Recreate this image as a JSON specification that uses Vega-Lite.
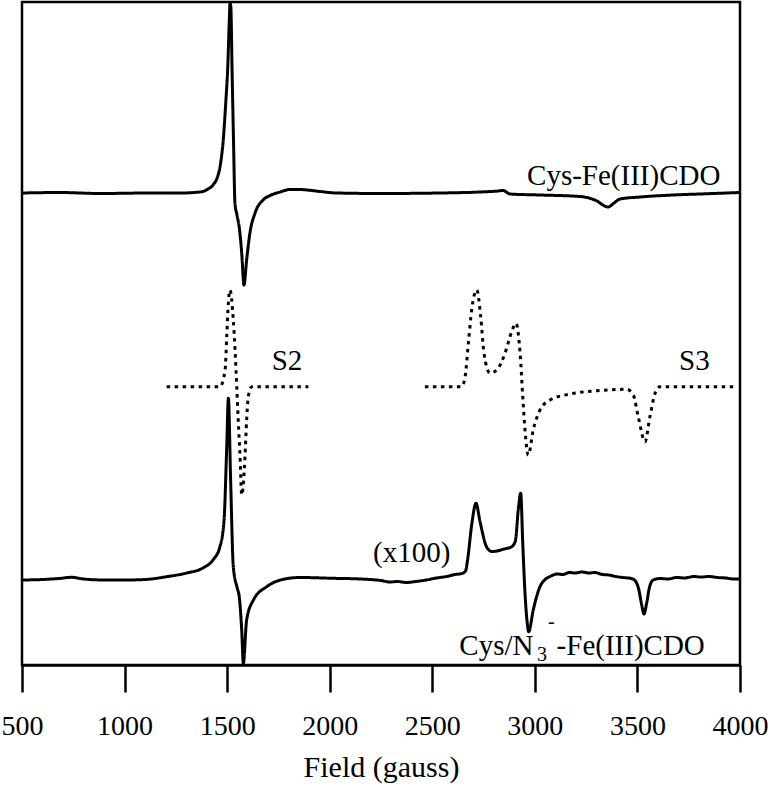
{
  "$schema": "https://vega.github.io/schema/vega-lite/v6.json",
  "width": 718,
  "height": 663,
  "autosize": {"type": "none"},
  "padding": {"left": 22, "top": 2, "right": 31, "bottom": 122},
  "background": "white",
  "config": {
    "font": "Liberation Serif",
    "view": {"stroke": "black", "strokeWidth": 2.5}
  },
  "datasets": {
    "curves": [
      {"series": "Cys-Fe(III)CDO", "style": "solid", "field": 500, "signal": 472},
      {"series": "Cys-Fe(III)CDO", "style": "solid", "field": 685, "signal": 472.5},
      {"series": "Cys-Fe(III)CDO", "style": "solid", "field": 880, "signal": 471.5},
      {"series": "Cys-Fe(III)CDO", "style": "solid", "field": 1124, "signal": 472},
      {"series": "Cys-Fe(III)CDO", "style": "solid", "field": 1270, "signal": 472},
      {"series": "Cys-Fe(III)CDO", "style": "solid", "field": 1368, "signal": 473},
      {"series": "Cys-Fe(III)CDO", "style": "solid", "field": 1407, "signal": 476},
      {"series": "Cys-Fe(III)CDO", "style": "solid", "field": 1431, "signal": 480},
      {"series": "Cys-Fe(III)CDO", "style": "solid", "field": 1451, "signal": 487},
      {"series": "Cys-Fe(III)CDO", "style": "solid", "field": 1465, "signal": 498},
      {"series": "Cys-Fe(III)CDO", "style": "solid", "field": 1481, "signal": 525},
      {"series": "Cys-Fe(III)CDO", "style": "solid", "field": 1494, "signal": 565},
      {"series": "Cys-Fe(III)CDO", "style": "solid", "field": 1503, "signal": 598},
      {"series": "Cys-Fe(III)CDO", "style": "solid", "field": 1511, "signal": 648},
      {"series": "Cys-Fe(III)CDO", "style": "solid", "field": 1514, "signal": 662},
      {"series": "Cys-Fe(III)CDO", "style": "solid", "field": 1518, "signal": 658},
      {"series": "Cys-Fe(III)CDO", "style": "solid", "field": 1524, "signal": 595},
      {"series": "Cys-Fe(III)CDO", "style": "solid", "field": 1531, "signal": 525},
      {"series": "Cys-Fe(III)CDO", "style": "solid", "field": 1538, "signal": 462},
      {"series": "Cys-Fe(III)CDO", "style": "solid", "field": 1548, "signal": 450},
      {"series": "Cys-Fe(III)CDO", "style": "solid", "field": 1560, "signal": 436},
      {"series": "Cys-Fe(III)CDO", "style": "solid", "field": 1571, "signal": 412},
      {"series": "Cys-Fe(III)CDO", "style": "solid", "field": 1582, "signal": 380},
      {"series": "Cys-Fe(III)CDO", "style": "solid", "field": 1595, "signal": 405},
      {"series": "Cys-Fe(III)CDO", "style": "solid", "field": 1611, "signal": 432},
      {"series": "Cys-Fe(III)CDO", "style": "solid", "field": 1636, "signal": 452},
      {"series": "Cys-Fe(III)CDO", "style": "solid", "field": 1675, "signal": 465},
      {"series": "Cys-Fe(III)CDO", "style": "solid", "field": 1709, "signal": 469.5},
      {"series": "Cys-Fe(III)CDO", "style": "solid", "field": 1758, "signal": 473},
      {"series": "Cys-Fe(III)CDO", "style": "solid", "field": 1806, "signal": 475.5},
      {"series": "Cys-Fe(III)CDO", "style": "solid", "field": 1855, "signal": 475.5},
      {"series": "Cys-Fe(III)CDO", "style": "solid", "field": 1889, "signal": 475},
      {"series": "Cys-Fe(III)CDO", "style": "solid", "field": 1953, "signal": 473.5},
      {"series": "Cys-Fe(III)CDO", "style": "solid", "field": 2036, "signal": 472},
      {"series": "Cys-Fe(III)CDO", "style": "solid", "field": 2245, "signal": 471.5},
      {"series": "Cys-Fe(III)CDO", "style": "solid", "field": 2538, "signal": 472},
      {"series": "Cys-Fe(III)CDO", "style": "solid", "field": 2733, "signal": 473},
      {"series": "Cys-Fe(III)CDO", "style": "solid", "field": 2820, "signal": 474},
      {"series": "Cys-Fe(III)CDO", "style": "solid", "field": 2845, "signal": 474.5},
      {"series": "Cys-Fe(III)CDO", "style": "solid", "field": 2879, "signal": 471},
      {"series": "Cys-Fe(III)CDO", "style": "solid", "field": 3025, "signal": 470},
      {"series": "Cys-Fe(III)CDO", "style": "solid", "field": 3220, "signal": 468.5},
      {"series": "Cys-Fe(III)CDO", "style": "solid", "field": 3293, "signal": 465},
      {"series": "Cys-Fe(III)CDO", "style": "solid", "field": 3357, "signal": 458},
      {"series": "Cys-Fe(III)CDO", "style": "solid", "field": 3386, "signal": 462},
      {"series": "Cys-Fe(III)CDO", "style": "solid", "field": 3415, "signal": 466},
      {"series": "Cys-Fe(III)CDO", "style": "solid", "field": 3513, "signal": 468},
      {"series": "Cys-Fe(III)CDO", "style": "solid", "field": 3673, "signal": 470},
      {"series": "Cys-Fe(III)CDO", "style": "solid", "field": 3805, "signal": 471},
      {"series": "Cys-Fe(III)CDO", "style": "solid", "field": 4000, "signal": 472.5},

      {"series": "S2", "style": "dotted", "field": 1205, "signal": 278.3},
      {"series": "S2", "style": "dotted", "field": 1465, "signal": 278.3},
      {"series": "S2", "style": "dotted", "field": 1490, "signal": 295},
      {"series": "S2", "style": "dotted", "field": 1498, "signal": 328.3},
      {"series": "S2", "style": "dotted", "field": 1506, "signal": 362},
      {"series": "S2", "style": "dotted", "field": 1514, "signal": 375},
      {"series": "S2", "style": "dotted", "field": 1530, "signal": 345},
      {"series": "S2", "style": "dotted", "field": 1547, "signal": 278.3},
      {"series": "S2", "style": "dotted", "field": 1554, "signal": 245},
      {"series": "S2", "style": "dotted", "field": 1563, "signal": 208.3},
      {"series": "S2", "style": "dotted", "field": 1571, "signal": 170},
      {"series": "S2", "style": "dotted", "field": 1587, "signal": 208.3},
      {"series": "S2", "style": "dotted", "field": 1595, "signal": 245},
      {"series": "S2", "style": "dotted", "field": 1603, "signal": 268.3},
      {"series": "S2", "style": "dotted", "field": 1620, "signal": 278.3},
      {"series": "S2", "style": "dotted", "field": 1896, "signal": 278.3},

      {"series": "S3", "style": "dotted", "field": 2464, "signal": 278.3},
      {"series": "S3", "style": "dotted", "field": 2643, "signal": 278.3},
      {"series": "S3", "style": "dotted", "field": 2660, "signal": 288.3},
      {"series": "S3", "style": "dotted", "field": 2676, "signal": 322},
      {"series": "S3", "style": "dotted", "field": 2692, "signal": 355},
      {"series": "S3", "style": "dotted", "field": 2717, "signal": 375},
      {"series": "S3", "style": "dotted", "field": 2736, "signal": 348.3},
      {"series": "S3", "style": "dotted", "field": 2752, "signal": 312},
      {"series": "S3", "style": "dotted", "field": 2781, "signal": 292},
      {"series": "S3", "style": "dotted", "field": 2814, "signal": 295},
      {"series": "S3", "style": "dotted", "field": 2855, "signal": 312},
      {"series": "S3", "style": "dotted", "field": 2887, "signal": 333.3},
      {"series": "S3", "style": "dotted", "field": 2908, "signal": 341.7},
      {"series": "S3", "style": "dotted", "field": 2928, "signal": 312},
      {"series": "S3", "style": "dotted", "field": 2941, "signal": 268.3},
      {"series": "S3", "style": "dotted", "field": 2952, "signal": 235},
      {"series": "S3", "style": "dotted", "field": 2968, "signal": 210},
      {"series": "S3", "style": "dotted", "field": 2992, "signal": 235},
      {"series": "S3", "style": "dotted", "field": 3025, "signal": 255},
      {"series": "S3", "style": "dotted", "field": 3074, "signal": 265},
      {"series": "S3", "style": "dotted", "field": 3172, "signal": 271},
      {"series": "S3", "style": "dotted", "field": 3302, "signal": 274.3},
      {"series": "S3", "style": "dotted", "field": 3448, "signal": 275.7},
      {"series": "S3", "style": "dotted", "field": 3480, "signal": 270},
      {"series": "S3", "style": "dotted", "field": 3504, "signal": 248.3},
      {"series": "S3", "style": "dotted", "field": 3537, "signal": 223.3},
      {"series": "S3", "style": "dotted", "field": 3561, "signal": 248.3},
      {"series": "S3", "style": "dotted", "field": 3586, "signal": 271.7},
      {"series": "S3", "style": "dotted", "field": 3610, "signal": 278.3},
      {"series": "S3", "style": "dotted", "field": 3984, "signal": 278.3},

      {"series": "Cys/N3-Fe(III)CDO", "style": "solid", "field": 500, "signal": 85},
      {"series": "Cys/N3-Fe(III)CDO", "style": "solid", "field": 600, "signal": 85.5},
      {"series": "Cys/N3-Fe(III)CDO", "style": "solid", "field": 680, "signal": 86.5},
      {"series": "Cys/N3-Fe(III)CDO", "style": "solid", "field": 742, "signal": 87.7},
      {"series": "Cys/N3-Fe(III)CDO", "style": "solid", "field": 800, "signal": 86},
      {"series": "Cys/N3-Fe(III)CDO", "style": "solid", "field": 900, "signal": 85},
      {"series": "Cys/N3-Fe(III)CDO", "style": "solid", "field": 1000, "signal": 85},
      {"series": "Cys/N3-Fe(III)CDO", "style": "solid", "field": 1100, "signal": 85.5},
      {"series": "Cys/N3-Fe(III)CDO", "style": "solid", "field": 1205, "signal": 88.3},
      {"series": "Cys/N3-Fe(III)CDO", "style": "solid", "field": 1303, "signal": 92},
      {"series": "Cys/N3-Fe(III)CDO", "style": "solid", "field": 1382, "signal": 97},
      {"series": "Cys/N3-Fe(III)CDO", "style": "solid", "field": 1431, "signal": 105},
      {"series": "Cys/N3-Fe(III)CDO", "style": "solid", "field": 1465, "signal": 118.3},
      {"series": "Cys/N3-Fe(III)CDO", "style": "solid", "field": 1485, "signal": 145},
      {"series": "Cys/N3-Fe(III)CDO", "style": "solid", "field": 1498, "signal": 218.3},
      {"series": "Cys/N3-Fe(III)CDO", "style": "solid", "field": 1506, "signal": 266.7},
      {"series": "Cys/N3-Fe(III)CDO", "style": "solid", "field": 1517, "signal": 185},
      {"series": "Cys/N3-Fe(III)CDO", "style": "solid", "field": 1530, "signal": 98.3},
      {"series": "Cys/N3-Fe(III)CDO", "style": "solid", "field": 1549, "signal": 77},
      {"series": "Cys/N3-Fe(III)CDO", "style": "solid", "field": 1559, "signal": 68.3},
      {"series": "Cys/N3-Fe(III)CDO", "style": "solid", "field": 1571, "signal": 35},
      {"series": "Cys/N3-Fe(III)CDO", "style": "solid", "field": 1579, "signal": 1.7},
      {"series": "Cys/N3-Fe(III)CDO", "style": "solid", "field": 1595, "signal": 45},
      {"series": "Cys/N3-Fe(III)CDO", "style": "solid", "field": 1628, "signal": 65},
      {"series": "Cys/N3-Fe(III)CDO", "style": "solid", "field": 1693, "signal": 78.3},
      {"series": "Cys/N3-Fe(III)CDO", "style": "solid", "field": 1774, "signal": 85.7},
      {"series": "Cys/N3-Fe(III)CDO", "style": "solid", "field": 1855, "signal": 87.5},
      {"series": "Cys/N3-Fe(III)CDO", "style": "solid", "field": 2016, "signal": 86.7},
      {"series": "Cys/N3-Fe(III)CDO", "style": "solid", "field": 2150, "signal": 86},
      {"series": "Cys/N3-Fe(III)CDO", "style": "solid", "field": 2250, "signal": 84.5},
      {"series": "Cys/N3-Fe(III)CDO", "style": "solid", "field": 2294, "signal": 83},
      {"series": "Cys/N3-Fe(III)CDO", "style": "solid", "field": 2330, "signal": 83.5},
      {"series": "Cys/N3-Fe(III)CDO", "style": "solid", "field": 2375, "signal": 82.5},
      {"series": "Cys/N3-Fe(III)CDO", "style": "solid", "field": 2420, "signal": 83.5},
      {"series": "Cys/N3-Fe(III)CDO", "style": "solid", "field": 2470, "signal": 85},
      {"series": "Cys/N3-Fe(III)CDO", "style": "solid", "field": 2520, "signal": 87},
      {"series": "Cys/N3-Fe(III)CDO", "style": "solid", "field": 2570, "signal": 88.5},
      {"series": "Cys/N3-Fe(III)CDO", "style": "solid", "field": 2610, "signal": 90.5},
      {"series": "Cys/N3-Fe(III)CDO", "style": "solid", "field": 2645, "signal": 91.5},
      {"series": "Cys/N3-Fe(III)CDO", "style": "solid", "field": 2662, "signal": 94},
      {"series": "Cys/N3-Fe(III)CDO", "style": "solid", "field": 2672, "signal": 105},
      {"series": "Cys/N3-Fe(III)CDO", "style": "solid", "field": 2692, "signal": 140},
      {"series": "Cys/N3-Fe(III)CDO", "style": "solid", "field": 2713, "signal": 161.7},
      {"series": "Cys/N3-Fe(III)CDO", "style": "solid", "field": 2733, "signal": 143},
      {"series": "Cys/N3-Fe(III)CDO", "style": "solid", "field": 2765, "signal": 118},
      {"series": "Cys/N3-Fe(III)CDO", "style": "solid", "field": 2790, "signal": 113.5},
      {"series": "Cys/N3-Fe(III)CDO", "style": "solid", "field": 2815, "signal": 114},
      {"series": "Cys/N3-Fe(III)CDO", "style": "solid", "field": 2850, "signal": 116},
      {"series": "Cys/N3-Fe(III)CDO", "style": "solid", "field": 2885, "signal": 118},
      {"series": "Cys/N3-Fe(III)CDO", "style": "solid", "field": 2905, "signal": 124},
      {"series": "Cys/N3-Fe(III)CDO", "style": "solid", "field": 2919, "signal": 155},
      {"series": "Cys/N3-Fe(III)CDO", "style": "solid", "field": 2931, "signal": 171.7},
      {"series": "Cys/N3-Fe(III)CDO", "style": "solid", "field": 2941, "signal": 121.7},
      {"series": "Cys/N3-Fe(III)CDO", "style": "solid", "field": 2952, "signal": 71.7},
      {"series": "Cys/N3-Fe(III)CDO", "style": "solid", "field": 2963, "signal": 41.7},
      {"series": "Cys/N3-Fe(III)CDO", "style": "solid", "field": 2970, "signal": 33.3},
      {"series": "Cys/N3-Fe(III)CDO", "style": "solid", "field": 2992, "signal": 55},
      {"series": "Cys/N3-Fe(III)CDO", "style": "solid", "field": 3025, "signal": 78.3},
      {"series": "Cys/N3-Fe(III)CDO", "style": "solid", "field": 3050, "signal": 85.5},
      {"series": "Cys/N3-Fe(III)CDO", "style": "solid", "field": 3074, "signal": 88.5},
      {"series": "Cys/N3-Fe(III)CDO", "style": "solid", "field": 3110, "signal": 91},
      {"series": "Cys/N3-Fe(III)CDO", "style": "solid", "field": 3135, "signal": 90.5},
      {"series": "Cys/N3-Fe(III)CDO", "style": "solid", "field": 3170, "signal": 92.5},
      {"series": "Cys/N3-Fe(III)CDO", "style": "solid", "field": 3195, "signal": 92},
      {"series": "Cys/N3-Fe(III)CDO", "style": "solid", "field": 3230, "signal": 93},
      {"series": "Cys/N3-Fe(III)CDO", "style": "solid", "field": 3265, "signal": 92},
      {"series": "Cys/N3-Fe(III)CDO", "style": "solid", "field": 3290, "signal": 92.5},
      {"series": "Cys/N3-Fe(III)CDO", "style": "solid", "field": 3330, "signal": 90.5},
      {"series": "Cys/N3-Fe(III)CDO", "style": "solid", "field": 3360, "signal": 90},
      {"series": "Cys/N3-Fe(III)CDO", "style": "solid", "field": 3395, "signal": 88.5},
      {"series": "Cys/N3-Fe(III)CDO", "style": "solid", "field": 3430, "signal": 87.5},
      {"series": "Cys/N3-Fe(III)CDO", "style": "solid", "field": 3470, "signal": 86.5},
      {"series": "Cys/N3-Fe(III)CDO", "style": "solid", "field": 3490, "signal": 84},
      {"series": "Cys/N3-Fe(III)CDO", "style": "solid", "field": 3506, "signal": 76},
      {"series": "Cys/N3-Fe(III)CDO", "style": "solid", "field": 3521, "signal": 60},
      {"series": "Cys/N3-Fe(III)CDO", "style": "solid", "field": 3532, "signal": 51},
      {"series": "Cys/N3-Fe(III)CDO", "style": "solid", "field": 3545, "signal": 62},
      {"series": "Cys/N3-Fe(III)CDO", "style": "solid", "field": 3558, "signal": 77},
      {"series": "Cys/N3-Fe(III)CDO", "style": "solid", "field": 3577, "signal": 85},
      {"series": "Cys/N3-Fe(III)CDO", "style": "solid", "field": 3610, "signal": 86.5},
      {"series": "Cys/N3-Fe(III)CDO", "style": "solid", "field": 3650, "signal": 86},
      {"series": "Cys/N3-Fe(III)CDO", "style": "solid", "field": 3690, "signal": 87.5},
      {"series": "Cys/N3-Fe(III)CDO", "style": "solid", "field": 3730, "signal": 87},
      {"series": "Cys/N3-Fe(III)CDO", "style": "solid", "field": 3775, "signal": 88.5},
      {"series": "Cys/N3-Fe(III)CDO", "style": "solid", "field": 3810, "signal": 88},
      {"series": "Cys/N3-Fe(III)CDO", "style": "solid", "field": 3850, "signal": 88.5},
      {"series": "Cys/N3-Fe(III)CDO", "style": "solid", "field": 3890, "signal": 87.5},
      {"series": "Cys/N3-Fe(III)CDO", "style": "solid", "field": 3930, "signal": 87},
      {"series": "Cys/N3-Fe(III)CDO", "style": "solid", "field": 3970, "signal": 86},
      {"series": "Cys/N3-Fe(III)CDO", "style": "solid", "field": 4000, "signal": 86}
    ],
    "labels": [
      {"label": "Cys-Fe(III)CDO", "field": 2962, "signal": 480},
      {"label": "S2", "field": 1717, "signal": 295},
      {"label": "S3", "field": 3703, "signal": 295},
      {"label": "(x100)", "field": 2211, "signal": 103},
      {"label": "Cys/N", "field": 2632, "signal": 10},
      {"label": "-Fe(III)CDO", "field": 3106, "signal": 10}
    ],
    "scripts": [
      {"label": "3", "field": 3010, "signal": 4},
      {"label": "-", "field": 3064, "signal": 37}
    ]
  },
  "layer": [
    {
      "data": {"name": "curves"},
      "mark": {"type": "line", "color": "black", "strokeWidth": 3, "strokeCap": "butt", "strokeJoin": "round", "interpolate": "monotone"},
      "encoding": {
        "x": {
          "field": "field", "type": "quantitative",
          "scale": {"domain": [500, 4000], "nice": false, "zero": false},
          "axis": {
            "values": [500, 1000, 1500, 2000, 2500, 3000, 3500, 4000],
            "format": "d",
            "title": "Field (gauss)",
            "grid": false,
            "domainColor": "black", "domainWidth": 2.5,
            "tickColor": "black", "tickWidth": 2.5, "tickSize": 27,
            "labelFont": "Liberation Serif", "labelFontSize": 28, "labelColor": "black",
            "labelPadding": 20, "labelFlush": false, "labelOverlap": false, "labelBound": false,
            "titleFont": "Liberation Serif", "titleFontSize": 30, "titleFontWeight": "normal",
            "titleColor": "black", "titlePadding": 12
          }
        },
        "y": {
          "field": "signal", "type": "quantitative",
          "scale": {"domain": [0, 663], "nice": false, "zero": false},
          "axis": null
        },
        "detail": {"field": "series"},
        "strokeDash": {
          "field": "style", "type": "nominal",
          "scale": {"domain": ["solid", "dotted"], "range": [[1, 0], [3.5, 4.5]]},
          "legend": null
        }
      }
    },
    {
      "data": {"name": "labels"},
      "mark": {"type": "text", "font": "Liberation Serif", "fontSize": 29, "color": "black", "align": "left", "baseline": "alphabetic"},
      "encoding": {
        "x": {"field": "field", "type": "quantitative"},
        "y": {"field": "signal", "type": "quantitative"},
        "text": {"field": "label"}
      }
    },
    {
      "data": {"name": "scripts"},
      "mark": {"type": "text", "font": "Liberation Serif", "fontSize": 20, "color": "black", "align": "left", "baseline": "alphabetic"},
      "encoding": {
        "x": {"field": "field", "type": "quantitative"},
        "y": {"field": "signal", "type": "quantitative"},
        "text": {"field": "label"}
      }
    }
  ]
}
